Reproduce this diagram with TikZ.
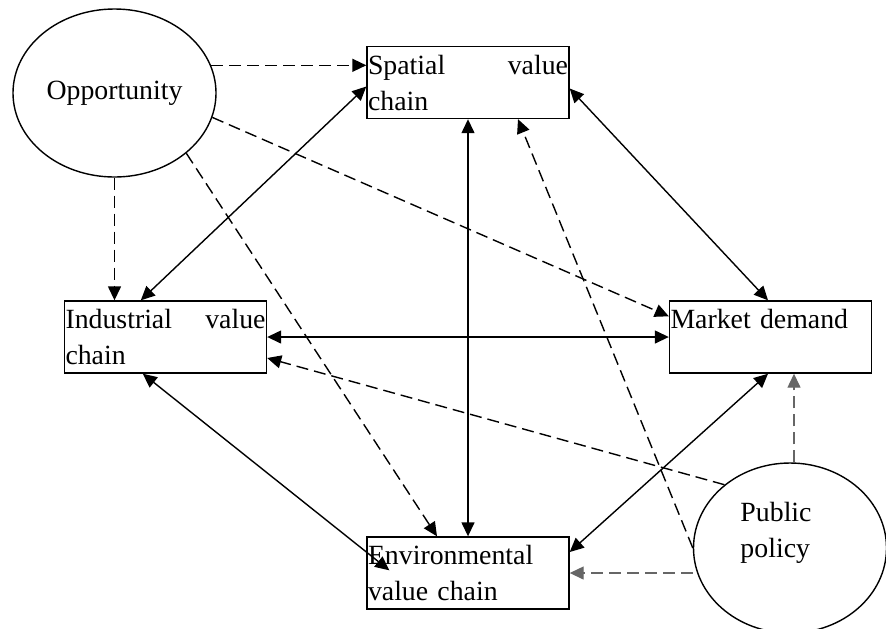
\documentclass[tikz,border=0pt]{standalone}
\usepackage{fontspec}
\setmainfont{Liberation Serif}
\usetikzlibrary{arrows.meta,shapes.geometric}
\begin{document}
\begin{tikzpicture}[>={Triangle[length=7pt,width=6.5pt]},x=0.5pt,y=-0.5pt,line width=0.7pt,
	hop/.style={draw,rectangle,minimum width=101pt,minimum height=36pt,inner xsep=0.5pt,inner ysep=0pt,text width=100pt,align=left,font=\fontsize{13.9}{18}\selectfont},
	elip/.style={draw,ellipse,inner sep=0pt,font=\fontsize{13.9}{18}\selectfont},
	dut/.style={->,dash pattern=on 6pt off 3pt},
	hai/.style={<->}]
	\useasboundingbox (0,0) rectangle (886,628);
	% Các nút
	\node[elip,minimum width=101.5pt,minimum height=84pt] (opp) at (114.5,93) {Opportunity};
	\node[elip,minimum width=96.5pt,minimum height=85pt] (pub) at (790,548) {};
	\node[inner sep=0pt,align=left,font=\fontsize{13.9}{18}\selectfont] (pubtxt) at (776,533) {Public\\policy};
	\node[hop] (spa) at (468,82.5) {Spatial\hfill value\\chain};
	\node[hop] (ind) at (165.5,337) {Industrial\hfill value\\chain};
	\node[hop] (mkt) at (770.5,337) {Market demand\\\mbox{}};
	\node[hop] (env) at (468,573) {Environmental\\value chain};
	% Mũi tên liền hai chiều
	\draw[hai] ([xshift=38.5pt]ind.north west) -- ([yshift=-2pt]spa.west);
	\draw[hai] ([yshift=-3pt]spa.east) -- ([xshift=-1.25pt]mkt.north);
	\draw[hai] (ind.east) -- (mkt.west);
	\draw[hai] (spa.south) -- (env.north);
	\draw[hai] ([xshift=-1.25pt]mkt.south) -- ([yshift=10.5pt]env.east);
	\draw[hai] ([xshift=39.5pt]ind.south west) -- ([xshift=11.5pt,yshift=-17pt]env.north west);
	% Mũi tên nét đứt từ Opportunity
	\draw[dut] (opp.16) -- (opp.16 -| spa.west);
	\draw[dut] (opp.south) -- (opp.south |- ind.north);
	\draw[dut] (opp.-14) -- ([yshift=-8pt]mkt.north west);
	\draw[dut] (opp.-40) -- ([xshift=-15.5pt]env.north);
	% Mũi tên nét đứt từ Public policy
	\draw[dut] (pub.136) -- ([yshift=-10.5pt]ind.east);
	\draw[dut] (pub.west) -- ([xshift=25pt]spa.south);
	\draw[dut,black!60] (env.east -| pub.west) -- (env.east);
	\draw[dut,black!60] ([xshift=2pt]pub.north) -- ([xshift=2pt]pub.north |- mkt.south);
\end{tikzpicture}
\end{document}
